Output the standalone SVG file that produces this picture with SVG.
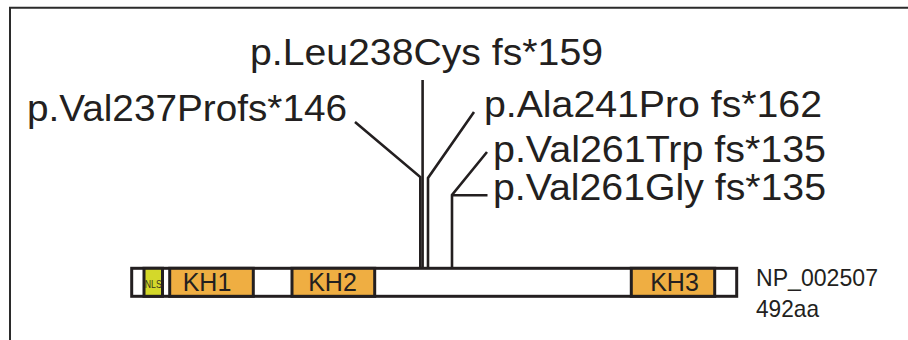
<svg xmlns="http://www.w3.org/2000/svg" width="908" height="340" viewBox="0 0 908 340">
<style>
.lbl{font-family:"Liberation Sans",Arial,sans-serif;font-size:37px;fill:#231f20}
.dom{font-family:"Liberation Sans",Arial,sans-serif;font-size:25px;fill:#231f20;text-anchor:middle}
.info{font-family:"Liberation Sans",Arial,sans-serif;font-size:24px;fill:#231f20}
.box{stroke:#231f20;stroke-width:3}
.kh{fill:#efae42}
.ln{fill:none;stroke:#231f20;stroke-width:2.6;stroke-linejoin:miter}
</style>
<rect width="908" height="340" fill="#ffffff"/>
<path d="M10 340 V7.7 H908" fill="none" stroke="#2b2b2b" stroke-width="2"/>
<g id="connectors">
<path class="ln" d="M355 122 L420.3 177 V268"/>
<path class="ln" d="M422.6 80 V268"/>
<path class="ln" d="M474 112 L428 178 V268"/>
<path class="ln" d="M487 152 L452 195 V268"/>
<path class="ln" d="M487.5 195.3 H452"/>
</g>
<g id="protein">
<rect class="box" x="131.7" y="268.3" width="605" height="28" fill="#ffffff"/>
</g>
<g id="nls">
<rect class="box" x="144" y="268.3" width="18.5" height="28" fill="#d4d82a"/>
<text x="153.3" y="287.5" font-family="Liberation Sans Narrow,Liberation Sans,Arial,sans-serif" font-size="10.5" fill="#3a3520" text-anchor="middle" textLength="17" lengthAdjust="spacingAndGlyphs">NLS</text>
</g>
<g id="kh1">
<rect class="box kh" x="169.7" y="268.3" width="83.6" height="28"/>
<text class="dom" x="207" y="291">KH1</text>
</g>
<g id="kh2">
<rect class="box kh" x="292" y="268.3" width="82.7" height="28"/>
<text class="dom" x="332.5" y="291">KH2</text>
</g>
<g id="kh3">
<rect class="box kh" x="631.3" y="268.3" width="83.4" height="28"/>
<text class="dom" x="674.5" y="291">KH3</text>
</g>
<g id="info">
<text class="info" x="756" y="285.7" textLength="122" lengthAdjust="spacingAndGlyphs">NP_002507</text>
<text class="info" x="756" y="316.7" textLength="63" lengthAdjust="spacingAndGlyphs">492aa</text>
</g>
<g id="leu238">
<text class="lbl" x="250" y="65" textLength="353" lengthAdjust="spacingAndGlyphs">p.Leu238Cys fs*159</text>
</g>
<g id="val237">
<text class="lbl" x="27" y="121" textLength="320" lengthAdjust="spacingAndGlyphs">p.Val237Profs*146</text>
</g>
<g id="ala241">
<text class="lbl" x="484" y="117" textLength="338" lengthAdjust="spacingAndGlyphs">p.Ala241Pro fs*162</text>
</g>
<g id="val261trp">
<text class="lbl" x="493" y="162" textLength="333" lengthAdjust="spacingAndGlyphs">p.Val261Trp fs*135</text>
</g>
<g id="val261gly">
<text class="lbl" x="493" y="199.5" textLength="333" lengthAdjust="spacingAndGlyphs">p.Val261Gly fs*135</text>
</g>
</svg>
